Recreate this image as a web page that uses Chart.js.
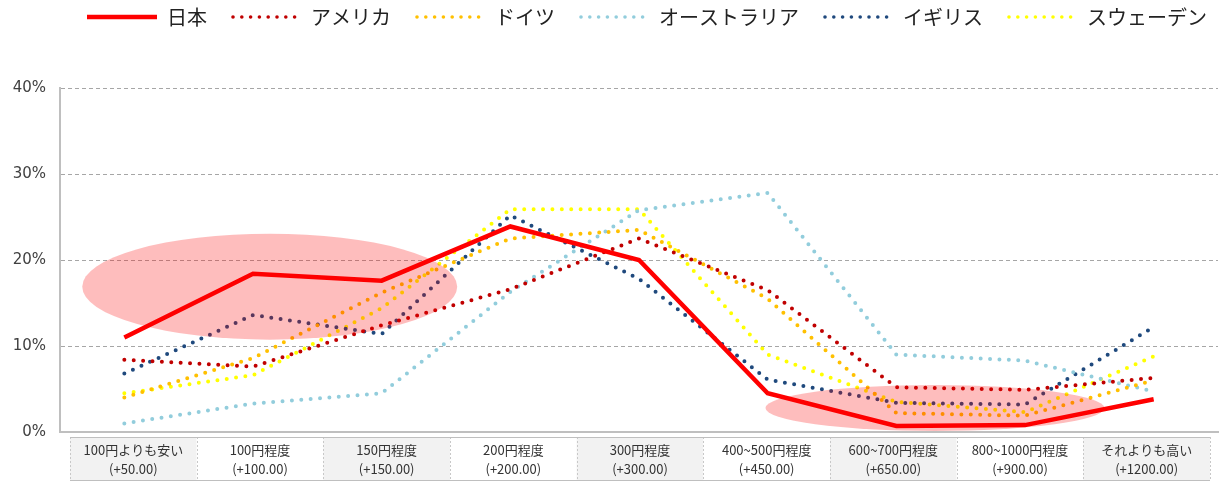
<!DOCTYPE html>
<html>
<head>
<meta charset="utf-8">
<script src="https://cdn.jsdelivr.net/npm/chart.js@4"></script>
<style>
  html, body { margin: 0; padding: 0; background: #fff; }
  #wrap { width: 1220px; height: 482px; }
</style>
</head>
<body>
<div id="wrap"><canvas id="priceChart"></canvas></div>
<script>
// categories (two lines per cell in the table under the chart)
const priceLabels = ['100円よりも安い', '100円程度', '150円程度', '200円程度', '300円程度',
  '400~500円程度', '600~700円程度', '800~1000円程度', 'それよりも高い'];
const extraLabels = ['(+50.00)', '(+100.00)', '(+150.00)', '(+200.00)', '(+300.00)',
  '(+450.00)', '(+650.00)', '(+900.00)', '(+1200.00)'];

const countries = ['日本', 'アメリカ', 'ドイツ', 'オーストラリア', 'イギリス', 'スウェーデン'];

// share of respondents, %
const japan     = [11.0, 18.4, 17.6, 23.9, 20.0, 4.5, 0.7, 0.8, 3.8];
const usa       = [8.4, 7.6, 12.4, 16.6, 22.5, 16.5, 5.2, 4.9, 6.3];
const germany   = [4.0, 8.6, 16.2, 22.5, 23.5, 15.5, 2.2, 1.9, 6.0];
const australia = [1.0, 3.3, 4.5, 16.3, 25.8, 27.8, 9.0, 8.3, 4.7];
const uk        = [6.8, 13.6, 11.4, 25.2, 17.8, 6.1, 3.4, 3.2, 12.2];
const sweden    = [4.5, 6.6, 14.4, 25.9, 25.9, 9.0, 3.5, 2.3, 8.8];

const series = [japan, usa, germany, australia, uk, sweden];
const colors = ['#ff0000', '#c00000', '#ffc000', '#92cddc', '#1f497d', '#ffff00'];

// little line samples for the legend (transparent margin on the left = gap between items)
const SAMPLE_MARGIN = 13;
function legendSample(color, solid) {
  const c = document.createElement('canvas');
  c.width = SAMPLE_MARGIN + 70;
  c.height = 8;
  const g = c.getContext('2d');
  if (solid) {
    g.strokeStyle = color;
    g.lineWidth = 4.5;
    g.beginPath();
    g.moveTo(SAMPLE_MARGIN, 4);
    g.lineTo(c.width, 4);
    g.stroke();
  } else {
    g.fillStyle = color;
    for (let x = SAMPLE_MARGIN + 2; x < c.width - 2; x += 8.8) {
      g.beginPath();
      g.arc(x, 4, 1.8, 0, Math.PI * 2);
      g.fill();
    }
  }
  return c;
}
const samples = colors.map((c, i) => legendSample(c, i === 0));

// pink highlight ellipses, in category index / percent units
const highlights = [
  { x: 1.13, y: 16.9, rx: 1.457, ry: 6.16 },
  { x: 6.30, y: 2.8, rx: 1.317, ry: 2.67 },
];

const legendHeight = {
  id: 'legendHeight',
  beforeInit(chart) {
    const fit = chart.legend.fit;
    chart.legend.fit = function () {
      fit.call(this);
      this.height = 92;
    };
  },
};

const ellipsePlugin = {
  id: 'ellipses',
  afterDatasetsDraw(chart) {
    const { ctx, scales: { x, y } } = chart;
    ctx.save();
    ctx.fillStyle = 'rgba(250, 0, 0, 0.26)';
    highlights.forEach((h) => {
      const cx = x.getPixelForValue(h.x);
      const cy = y.getPixelForValue(h.y);
      const rx = x.getPixelForValue(h.x + h.rx) - cx;
      const ry = cy - y.getPixelForValue(h.y + h.ry);
      ctx.beginPath();
      ctx.ellipse(cx, cy, rx, ry, 0, 0, Math.PI * 2);
      ctx.fill();
    });
    ctx.restore();
  },
};

const tablePlugin = {
  id: 'dataTable',
  afterDraw(chart) {
    const { ctx, chartArea } = chart;
    const left = chartArea.left + 10;
    const right = chartArea.right - 8;
    const top = chartArea.bottom + 5;
    const bottom = 481;
    const w = (right - left) / priceLabels.length;
    ctx.save();
    priceLabels.forEach((lab, i) => {
      const x0 = left + i * w;
      ctx.fillStyle = i % 2 === 0 ? '#f2f2f2' : '#ffffff';
      ctx.fillRect(x0, top, w, bottom - top);
      ctx.fillStyle = '#333';
      ctx.font = '13px "Noto Sans CJK JP"';
      ctx.textAlign = 'center';
      ctx.textBaseline = 'middle';
      ctx.fillText(lab, x0 + w / 2, top + 13);
      ctx.fillText(extraLabels[i], x0 + w / 2, top + 32);
    });
    ctx.strokeStyle = '#c8c8c8';
    ctx.lineWidth = 1;
    ctx.setLineDash([2, 2]);
    for (let i = 0; i <= priceLabels.length; i++) {
      const xx = Math.round(left + i * w) + 0.5;
      ctx.beginPath();
      ctx.moveTo(xx, top);
      ctx.lineTo(xx, bottom);
      ctx.stroke();
    }
    ctx.setLineDash([]);
    ctx.strokeStyle = '#bfbfbf';
    ctx.beginPath();
    ctx.moveTo(left, top + 0.5);
    ctx.lineTo(right, top + 0.5);
    ctx.moveTo(left, bottom - 0.5);
    ctx.lineTo(right, bottom - 0.5);
    ctx.stroke();
    ctx.restore();
  },
};

const datasets = series.map((data, i) => ({
  label: countries[i],
  data,
  borderColor: colors[i],
  backgroundColor: colors[i],
  borderWidth: i === 0 ? 4.5 : 4,
  borderDash: i === 0 ? [] : [0, 9.4],
  borderCapStyle: i === 0 ? 'butt' : 'round',
  pointRadius: 0,
  tension: 0,
  fill: false,
}));

new Chart(document.getElementById('priceChart'), {
  type: 'line',
  data: { labels: priceLabels, datasets },
  options: {
    responsive: true,
    maintainAspectRatio: false,
    animation: false,
    layout: { padding: { left: 0, right: 2, top: -4, bottom: 0 } },
    plugins: {
      legend: {
        position: 'top',
        align: 'end',
        labels: {
          usePointStyle: true,
          pointStyleWidth: SAMPLE_MARGIN + 70,
          padding: 11,
          color: '#222',
          font: { family: 'Noto Sans CJK JP', size: 20 },
          generateLabels(chart) {
            return chart.data.datasets.map((ds, i) => ({
              text: ds.label,
              pointStyle: samples[i],
              datasetIndex: i,
              hidden: false,
              fontColor: '#222',
              lineWidth: 0,
              strokeStyle: 'transparent',
              fillStyle: 'transparent',
            }));
          },
        },
      },
      tooltip: { enabled: false },
    },
    scales: {
      x: {
        offset: true,
        grid: { display: false },
        border: { color: '#bfbfbf', width: 2 },
        ticks: { display: false },
        afterFit(scale) { scale.height = 50; },
      },
      y: {
        min: 0,
        max: 40,
        ticks: {
          stepSize: 10,
          padding: 14,
          color: '#404040',
          font: { family: 'DejaVu Sans', size: 15 },
          callback: (v) => v + '%',
        },
        grid: {
          drawTicks: false,
          color: (c) => (c.tick.value === 0 ? 'rgba(0,0,0,0)' : '#a6a6a6'),
        },
        border: { color: '#bfbfbf', width: 2, dash: [4, 3] },
        afterFit(scale) { scale.width = 60; },
      },
    },
  },
  plugins: [legendHeight, ellipsePlugin, tablePlugin],
});
</script>
</body>
</html>
